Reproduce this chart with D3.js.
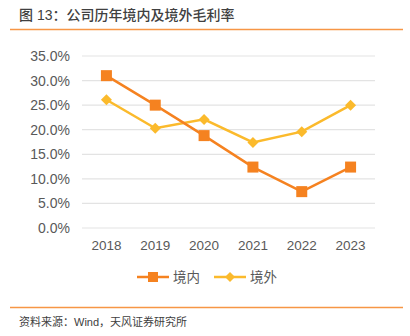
<!DOCTYPE html>
<html>
<head>
<meta charset="utf-8">
<script src="https://cdn.jsdelivr.net/npm/d3@7"></script>
<style>
  body { margin: 0; background: #fff; }
  svg { display: block; font-family: "Liberation Sans", "Noto Sans CJK SC", sans-serif; }
</style>
</head>
<body>
<div id="chart"></div>
<script>
var years = ["2018", "2019", "2020", "2021", "2022", "2023"]
var domestic = [31.0, 25.0, 18.8, 12.4, 7.4, 12.4]   // 境内
var overseas = [26.1, 20.3, 22.1, 17.4, 19.6, 25.0]  // 境外
var yTicks = [0, 5, 10, 15, 20, 25, 30, 35]
var seriesNames = ["境内", "境外"]

var width = 410, height = 336
var orange = "#F58220", yellow = "#FBBA2C"

var svg = d3.select("#chart").append("svg")
    .attr("width", width)
    .attr("height", height)

// title
svg.append("text")
    .attr("x", 19).attr("y", 20)
    .attr("font-size", 14)
    .attr("font-weight", 500)
    .attr("fill", "#404040")
    .text("图 13：公司历年境内及境外毛利率")
svg.append("line")
    .attr("x1", 10).attr("x2", 403)
    .attr("y1", 29.5).attr("y2", 29.5)
    .attr("stroke", "#F79646").attr("stroke-width", 1.5)

var x = d3.scaleBand().domain(years).range([82, 375])
var y = d3.scaleLinear().domain([0, 35]).range([228, 56])

// grid
svg.append("g")
    .selectAll("line")
    .data(yTicks)
    .enter()
    .append("line")
        .attr("x1", 82).attr("x2", 375)
        .attr("y1", d => y(d)).attr("y2", d => y(d))
        .attr("stroke", "#e3e3e3").attr("stroke-width", 1.2)

// y axis labels
svg.append("g")
    .selectAll("text")
    .data(yTicks)
    .enter()
    .append("text")
        .attr("x", 70)
        .attr("y", d => y(d) + 5)
        .attr("text-anchor", "end")
        .attr("font-size", 14)
        .attr("fill", "#595959")
        .text(d => d.toFixed(1) + "%")

// x axis labels
svg.append("g")
    .selectAll("text")
    .data(years)
    .enter()
    .append("text")
        .attr("x", d => x(d) + x.bandwidth() / 2)
        .attr("y", 250)
        .attr("text-anchor", "middle")
        .attr("font-size", 13.5)
        .attr("fill", "#595959")
        .text(d => d)

var line = d3.line()
    .x((d, i) => x(years[i]) + x.bandwidth() / 2)
    .y(d => y(d))

function square(g, cx, cy, s, color) {
    g.append("rect")
        .attr("x", cx - s / 2).attr("y", cy - s / 2)
        .attr("width", s).attr("height", s)
        .attr("fill", color)
}
function diamond(g, cx, cy, s, color) {
    g.append("path")
        .attr("d", d3.symbol(d3.symbolSquare, s * s / 2)())
        .attr("transform", "translate(" + cx + "," + cy + ") rotate(45)")
        .attr("fill", color)
}

// 境外 first so 境内 sits on top
var g2 = svg.append("g")
g2.append("path").datum(overseas)
    .attr("d", line).attr("fill", "none")
    .attr("stroke", yellow).attr("stroke-width", 2.5)
overseas.forEach((v, i) => diamond(g2, x(years[i]) + x.bandwidth() / 2, y(v), 11, yellow))

var g1 = svg.append("g")
g1.append("path").datum(domestic)
    .attr("d", line).attr("fill", "none")
    .attr("stroke", orange).attr("stroke-width", 2.5)
domestic.forEach((v, i) => square(g1, x(years[i]) + x.bandwidth() / 2, y(v), 11, orange))

// legend
var leg = svg.append("g")
leg.append("line").attr("x1", 137).attr("x2", 169).attr("y1", 277).attr("y2", 277)
    .attr("stroke", orange).attr("stroke-width", 2.5)
square(leg, 153, 277, 10, orange)
leg.append("text").attr("x", 173).attr("y", 282)
    .attr("font-size", 13.5).attr("fill", "#595959").text(seriesNames[0])
leg.append("line").attr("x1", 214).attr("x2", 246).attr("y1", 277).attr("y2", 277)
    .attr("stroke", yellow).attr("stroke-width", 2.5)
diamond(leg, 230, 277, 10, yellow)
leg.append("text").attr("x", 250).attr("y", 282)
    .attr("font-size", 13.5).attr("fill", "#595959").text(seriesNames[1])

// footer
svg.append("line")
    .attr("x1", 10).attr("x2", 403)
    .attr("y1", 307.5).attr("y2", 307.5)
    .attr("stroke", "#F79646").attr("stroke-width", 1.5)
svg.append("text")
    .attr("x", 19).attr("y", 326)
    .attr("font-size", 11)
    .attr("fill", "#404040")
    .text("资料来源：Wind，天风证券研究所")
</script>
</body>
</html>
